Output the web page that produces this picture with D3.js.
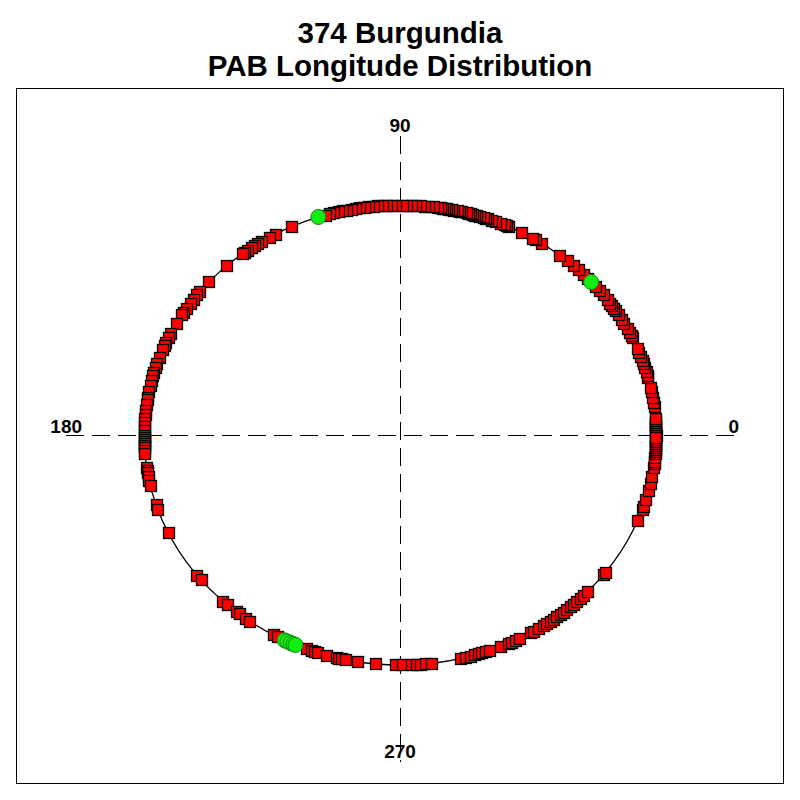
<!DOCTYPE html>
<html>
<head>
<meta charset="utf-8">
<script src="https://cdn.jsdelivr.net/npm/d3@7"></script>
<style>
  body { margin: 0; background: #fff; }
  text { font-family: "Liberation Sans", Arial, sans-serif; font-weight: bold; }
</style>
</head>
<body>
<script>
// chart text
var titleLines = ["374 Burgundia", "PAB Longitude Distribution"];

// PAB longitudes (deg) of the observations, red squares, per quadrant
var pabQ1 = [0, 0.5, 1, 1.5, 2, 2.5, 3, 3.5, 4.2, 7, 8.2, 9.5, 10.8, 12, 14.6, 15.1, 16, 17, 18, 19, 20, 21, 22.2,
  25, 25.5, 26.5, 27.5, 29, 30.2, 31.6, 32.8, 33.5, 34.4, 35, 36, 37.5, 38.9, 40.3, 43, 44.3, 45.9, 47.4, 49.2,
  51.5, 56.4, 58.1, 58.8, 61.6, 65, 65.4, 66, 67, 68, 69, 70, 70.5, 71, 72, 72.5, 73, 73.5, 74, 74.5, 75, 76,
  76.5, 77, 78, 78.5, 79, 79.5, 80, 80.5, 81, 81.5, 82.5, 83.5, 84.5, 85.5, 86.5, 87.5, 88.5, 89.5];
var pabQ2 = [91, 92, 93, 94, 95, 96, 97, 98, 99, 100, 101, 102, 103, 104, 105, 106, 107, 115, 119.1, 120.6,
  122.7, 123.8, 124.6, 125.4, 126.5, 127.4, 128, 132.6, 138.3, 141.5, 142.5, 143.8, 145, 146.5, 147.7, 148.5,
  150.9, 153.7, 154.8, 156.2, 157, 158.3, 160.2, 161.8, 163, 164.3, 165, 166.2, 167.5, 169.2, 170.5, 171.2,
  172.5, 173.8, 174.8, 175.8, 176.8, 178, 179, 180];
var pabQ3 = [180.5, 181, 181.5, 182, 182.5, 183, 183.8, 184.5, 188, 189, 189.5, 190.5, 191.3, 192.8, 197.7, 199,
  205.2, 217.5, 219, 226.2, 227.6, 230.3, 231.1, 233, 234, 240.4, 241.4, 248.5, 249.7, 250.4, 251.2, 253.3,
  255.6, 256, 256.7, 257.6, 260.4, 264.4, 269.1];
var pabQ4 = [270.5, 272.5, 273.6, 274.7, 275.8, 277, 283.7, 284.9, 286, 287, 287.9, 288.6, 289.6, 290.5, 293.1,
  295.1, 295.8, 296.8, 297.8, 300.7, 301.4, 302.7, 304.1, 304.9, 306, 306.8, 307.7, 308.8, 309.6, 310.5, 311.7,
  312.6, 313.6, 314.8, 315.7, 317, 322.8, 323.4, 338.3, 341, 341.8, 343.6, 346, 347.7, 349.5, 352, 353, 353.5,
  354.5, 355.5, 356, 356.5, 357, 357.5, 358, 358.5, 359, 359.5];

// green circles
var greenPab = [108.6, 41.7, 243.2, 243.9, 244.7, 245.4, 245.9];

// axis labels
var axisLabels = [{ label: "0", deg: 0 }, { label: "90", deg: 90 }, { label: "180", deg: 180 }, { label: "270", deg: 270 }];

var redPab = pabQ1.concat(pabQ2, pabQ3, pabQ4);

var W = 800, H = 800;
var frame = { left: 16.5, top: 88.5, right: 783.5, bottom: 783.5 };
var cx = 400, cy = 435, rx = 256, ry = 230;

// unit circle -> page
var x = d3.scaleLinear().domain([-1, 1]).range([cx - rx, cx + rx]);
var y = d3.scaleLinear().domain([-1, 1]).range([cy + ry, cy - ry]);
var rad = function(d) { return d * Math.PI / 180; };

var svg = d3.select("body").append("svg")
    .attr("width", W)
    .attr("height", H);

// title
svg.selectAll("text.title")
    .data(titleLines)
  .enter().append("text")
    .attr("class", "title")
    .attr("x", W / 2)
    .attr("y", function(d, i) { return 43 + i * 33; })
    .attr("text-anchor", "middle")
    .attr("font-size", "29.5px")
    .text(function(d) { return d; });

// frame
svg.append("rect")
    .attr("x", frame.left)
    .attr("y", frame.top)
    .attr("width", frame.right - frame.left)
    .attr("height", frame.bottom - frame.top)
    .attr("fill", "none")
    .attr("stroke", "#000")
    .attr("stroke-width", 1);

// labels
svg.selectAll("text.axis")
    .data(axisLabels)
  .enter().append("text")
    .attr("class", "axis")
    .attr("text-anchor", "middle")
    .attr("font-size", "19px")
    .attr("x", function(d) { return x(1.304 * Math.cos(rad(d.deg))); })
    .attr("y", function(d) {
      if (d.deg === 90) return y(1.317);
      if (d.deg === 270) return y(-1.405);
      return cy - 2;
    })
    .text(function(d) { return d.label; });

// dashed axes
svg.append("line")
    .attr("x1", x(-1.305)).attr("x2", x(1.305))
    .attr("y1", y(0) + 0.5).attr("y2", y(0) + 0.5)
    .attr("stroke", "#000")
    .attr("shape-rendering", "crispEdges")
    .attr("stroke-dasharray", "18,8");
svg.append("line")
    .attr("x1", x(0) + 0.5).attr("x2", x(0) + 0.5)
    .attr("y1", y(1.3)).attr("y2", y(-1.42))
    .attr("stroke", "#000")
    .attr("shape-rendering", "crispEdges")
    .attr("stroke-dasharray", "18,8");

// the orbit curve
svg.append("ellipse")
    .attr("cx", x(0))
    .attr("cy", y(0))
    .attr("rx", x(1) - x(0))
    .attr("ry", y(0) - y(1))
    .attr("fill", "none")
    .attr("stroke", "#000")
    .attr("stroke-width", 1.3);

// red squares
var s = 11;
svg.selectAll("rect.pab")
    .data(redPab)
  .enter().append("rect")
    .attr("class", "pab")
    .attr("x", function(d) { return Math.round(x(Math.cos(rad(d))) - s / 2) + 0.5; })
    .attr("y", function(d) { return Math.round(y(Math.sin(rad(d))) - s / 2) + 0.5; })
    .attr("width", s)
    .attr("height", s)
    .attr("fill", "#ff0000")
    .attr("stroke", "#000")
    .attr("stroke-width", 1.3);

// green circles
svg.selectAll("circle.green")
    .data(greenPab)
  .enter().append("circle")
    .attr("class", "green")
    .attr("cx", function(d) { return x(Math.cos(rad(d))); })
    .attr("cy", function(d) { return y(Math.sin(rad(d))); })
    .attr("r", 7.5)
    .attr("fill", "#11ee11")
    .attr("stroke", "#0a8a0a")
    .attr("stroke-width", 1);
</script>
</body>
</html>
